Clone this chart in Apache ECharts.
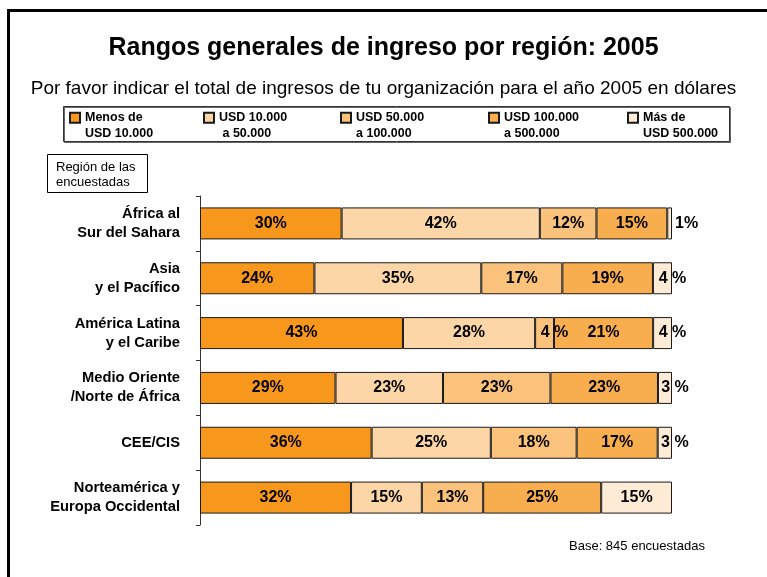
<!DOCTYPE html>
<html>
<head>
<meta charset="utf-8">
<title>Rangos generales de ingreso por región: 2005</title>
<script src="https://cdn.jsdelivr.net/npm/echarts@6/dist/echarts.min.js"></script>
<style>
  html, body { margin: 0; padding: 0; background: #fff; }
  #chart { width: 767px; height: 577px; }
</style>
</head>
<body>
<div id="chart"></div>
<script>
// Datos del gráfico (porcentajes tal como aparecen en las etiquetas)
const regions = [
  'África al\nSur del Sahara',
  'Asia\ny el Pacífico',
  'América Latina\ny el Caribe',
  'Medio Oriente\n/Norte de África',
  'CEE/CIS',
  'Norteamérica y\nEuropa Occidental'
]
const rangeNames = [
  'Menos de USD 10.000',
  'USD 10.000 a 50.000',
  'USD 50.000 a 100.000',
  'USD 100.000 a 500.000',
  'Más de USD 500.000'
]
const legendLabels = [
  'Menos de\nUSD 10.000',
  'USD 10.000\n a 50.000',
  'USD 50.000\na 100.000',
  'USD 100.000\na 500.000',
  'Más de\nUSD 500.000'
]
const menos10k = [30, 24, 43, 29, 36, 32]
const de10a50k = [42, 35, 28, 23, 25, 15]
const de50a100k = [12, 17, 4, 23, 18, 13]
const de100a500k = [15, 19, 21, 23, 17, 25]
const mas500k = [1, 4, 4, 3, 3, 15]

const seriesValues = [menos10k, de10a50k, de50a100k, de100a500k, mas500k]
const colors = ['#F7981D', '#FCD6A6', '#FAC27B', '#F8AD4E', '#FDEBD6']

const FONT = 'Arial, "Liberation Sans", sans-serif'

// Total por región (barras al 100%, como en Excel)
const rowTotals = regions.map((_, i) => seriesValues.reduce((s, arr) => s + arr[i], 0))

// Etiqueta de cada segmento; los segmentos pequeños se corren a la derecha
const buildData = (values) => values.map((v, i) => {
  const item = { value: v / rowTotals[i] * 100, raw: v }
  if (v <= 1) {
    item.label = { offset: [17, 0] }
  } else if (v < 5) {
    item.label = { offset: [10, 0] }
  }
  return item
})

const series = seriesValues.map((values, idx) => ({
  name: rangeNames[idx],
  type: 'bar',
  stack: 'total',
  barWidth: 32,
  data: buildData(values),
  itemStyle: {
    color: colors[idx],
    borderColor: '#1a1a1a',
    borderWidth: 1
  },
  label: {
    show: true,
    position: 'inside',
    color: '#000',
    fontFamily: FONT,
    fontWeight: 'bold',
    fontSize: 16,
    formatter: (p) => {
      const v = p.data.raw
      if (v <= 1) return v + '%'
      if (v < 5) return v + ' %'
      return v + '%'
    }
  },
  emphasis: { disabled: true }
}))

// Una leyenda por rango para ubicarlas como en el original.
// El icono es un cuadrado de 10px arriba de una caja de 25.5px de alto,
// así queda a la altura de la primera línea del texto.
const legendX = [69, 203, 340, 488, 627]
const legends = rangeNames.map((name, idx) => ({
  data: [name],
  left: legendX[idx],
  top: 110,
  padding: 0,
  icon: 'path://M0,0H10V10H0Z M0,25.5',
  itemWidth: 10,
  itemHeight: 25.5,
  selectedMode: false,
  formatter: () => legendLabels[idx],
  textStyle: {
    fontFamily: FONT,
    fontWeight: 'bold',
    fontSize: 12.5,
    lineHeight: 15.5,
    color: '#000'
  }
}))

const chart = echarts.init(document.getElementById('chart'))

chart.setOption({
  backgroundColor: '#fff',
  animation: false,
  title: [
    {
      text: 'Rangos generales de ingreso por región: 2005',
      left: 'center',
      top: 36,
      padding: 0,
      textStyle: { fontFamily: FONT, fontWeight: 'bold', fontSize: 25, color: '#000' }
    },
    {
      text: 'Por favor indicar el total de ingresos de tu organización para el año 2005 en dólares',
      left: 'center',
      top: 79,
      padding: 0,
      textStyle: { fontFamily: FONT, fontWeight: 'normal', fontSize: 19, color: '#000' }
    }
  ],
  legend: legends,
  grid: {
    left: 200,
    top: 196,
    width: 472,
    height: 329,
    containLabel: false
  },
  xAxis: {
    type: 'value',
    min: 0,
    max: 100,
    show: false
  },
  yAxis: {
    type: 'category',
    inverse: true,
    data: regions,
    axisLine: { show: true, lineStyle: { color: '#333', width: 1 } },
    axisTick: { show: true, length: 4, lineStyle: { color: '#333' } },
    axisLabel: {
      margin: 20,
      fontFamily: FONT,
      fontWeight: 'bold',
      fontSize: 14.7,
      lineHeight: 19,
      color: '#000',
      align: 'right'
    }
  },
  graphic: [
    // Marco exterior
    {
      type: 'rect',
      shape: { x: 8.5, y: 10.5, width: 820, height: 620 },
      style: { fill: 'none', stroke: '#000', lineWidth: 3 },
      z: 100
    },
    // Caja de la leyenda
    {
      type: 'rect',
      shape: { x: 63.5, y: 106.5, width: 666, height: 35 },
      style: { fill: 'none', stroke: '#333', lineWidth: 1, shadowColor: 'rgba(0,0,0,0.6)', shadowOffsetX: 1, shadowOffsetY: 1 },
      z: -1
    },
    // Caja "Región de las encuestadas"
    {
      type: 'rect',
      shape: { x: 47.5, y: 154.5, width: 100, height: 38 },
      style: { fill: '#fff', stroke: '#000', lineWidth: 1 }
    },
    {
      type: 'text',
      left: 56,
      top: 160,
      style: {
        text: 'Región de las\nencuestadas',
        font: '13px ' + FONT,
        lineHeight: 15,
        fill: '#000'
      }
    },
    {
      type: 'text',
      left: 569,
      top: 540,
      style: {
        text: 'Base: 845 encuestadas',
        font: '13px ' + FONT,
        fill: '#000'
      }
    }
  ],
  series
})
</script>
</body>
</html>
